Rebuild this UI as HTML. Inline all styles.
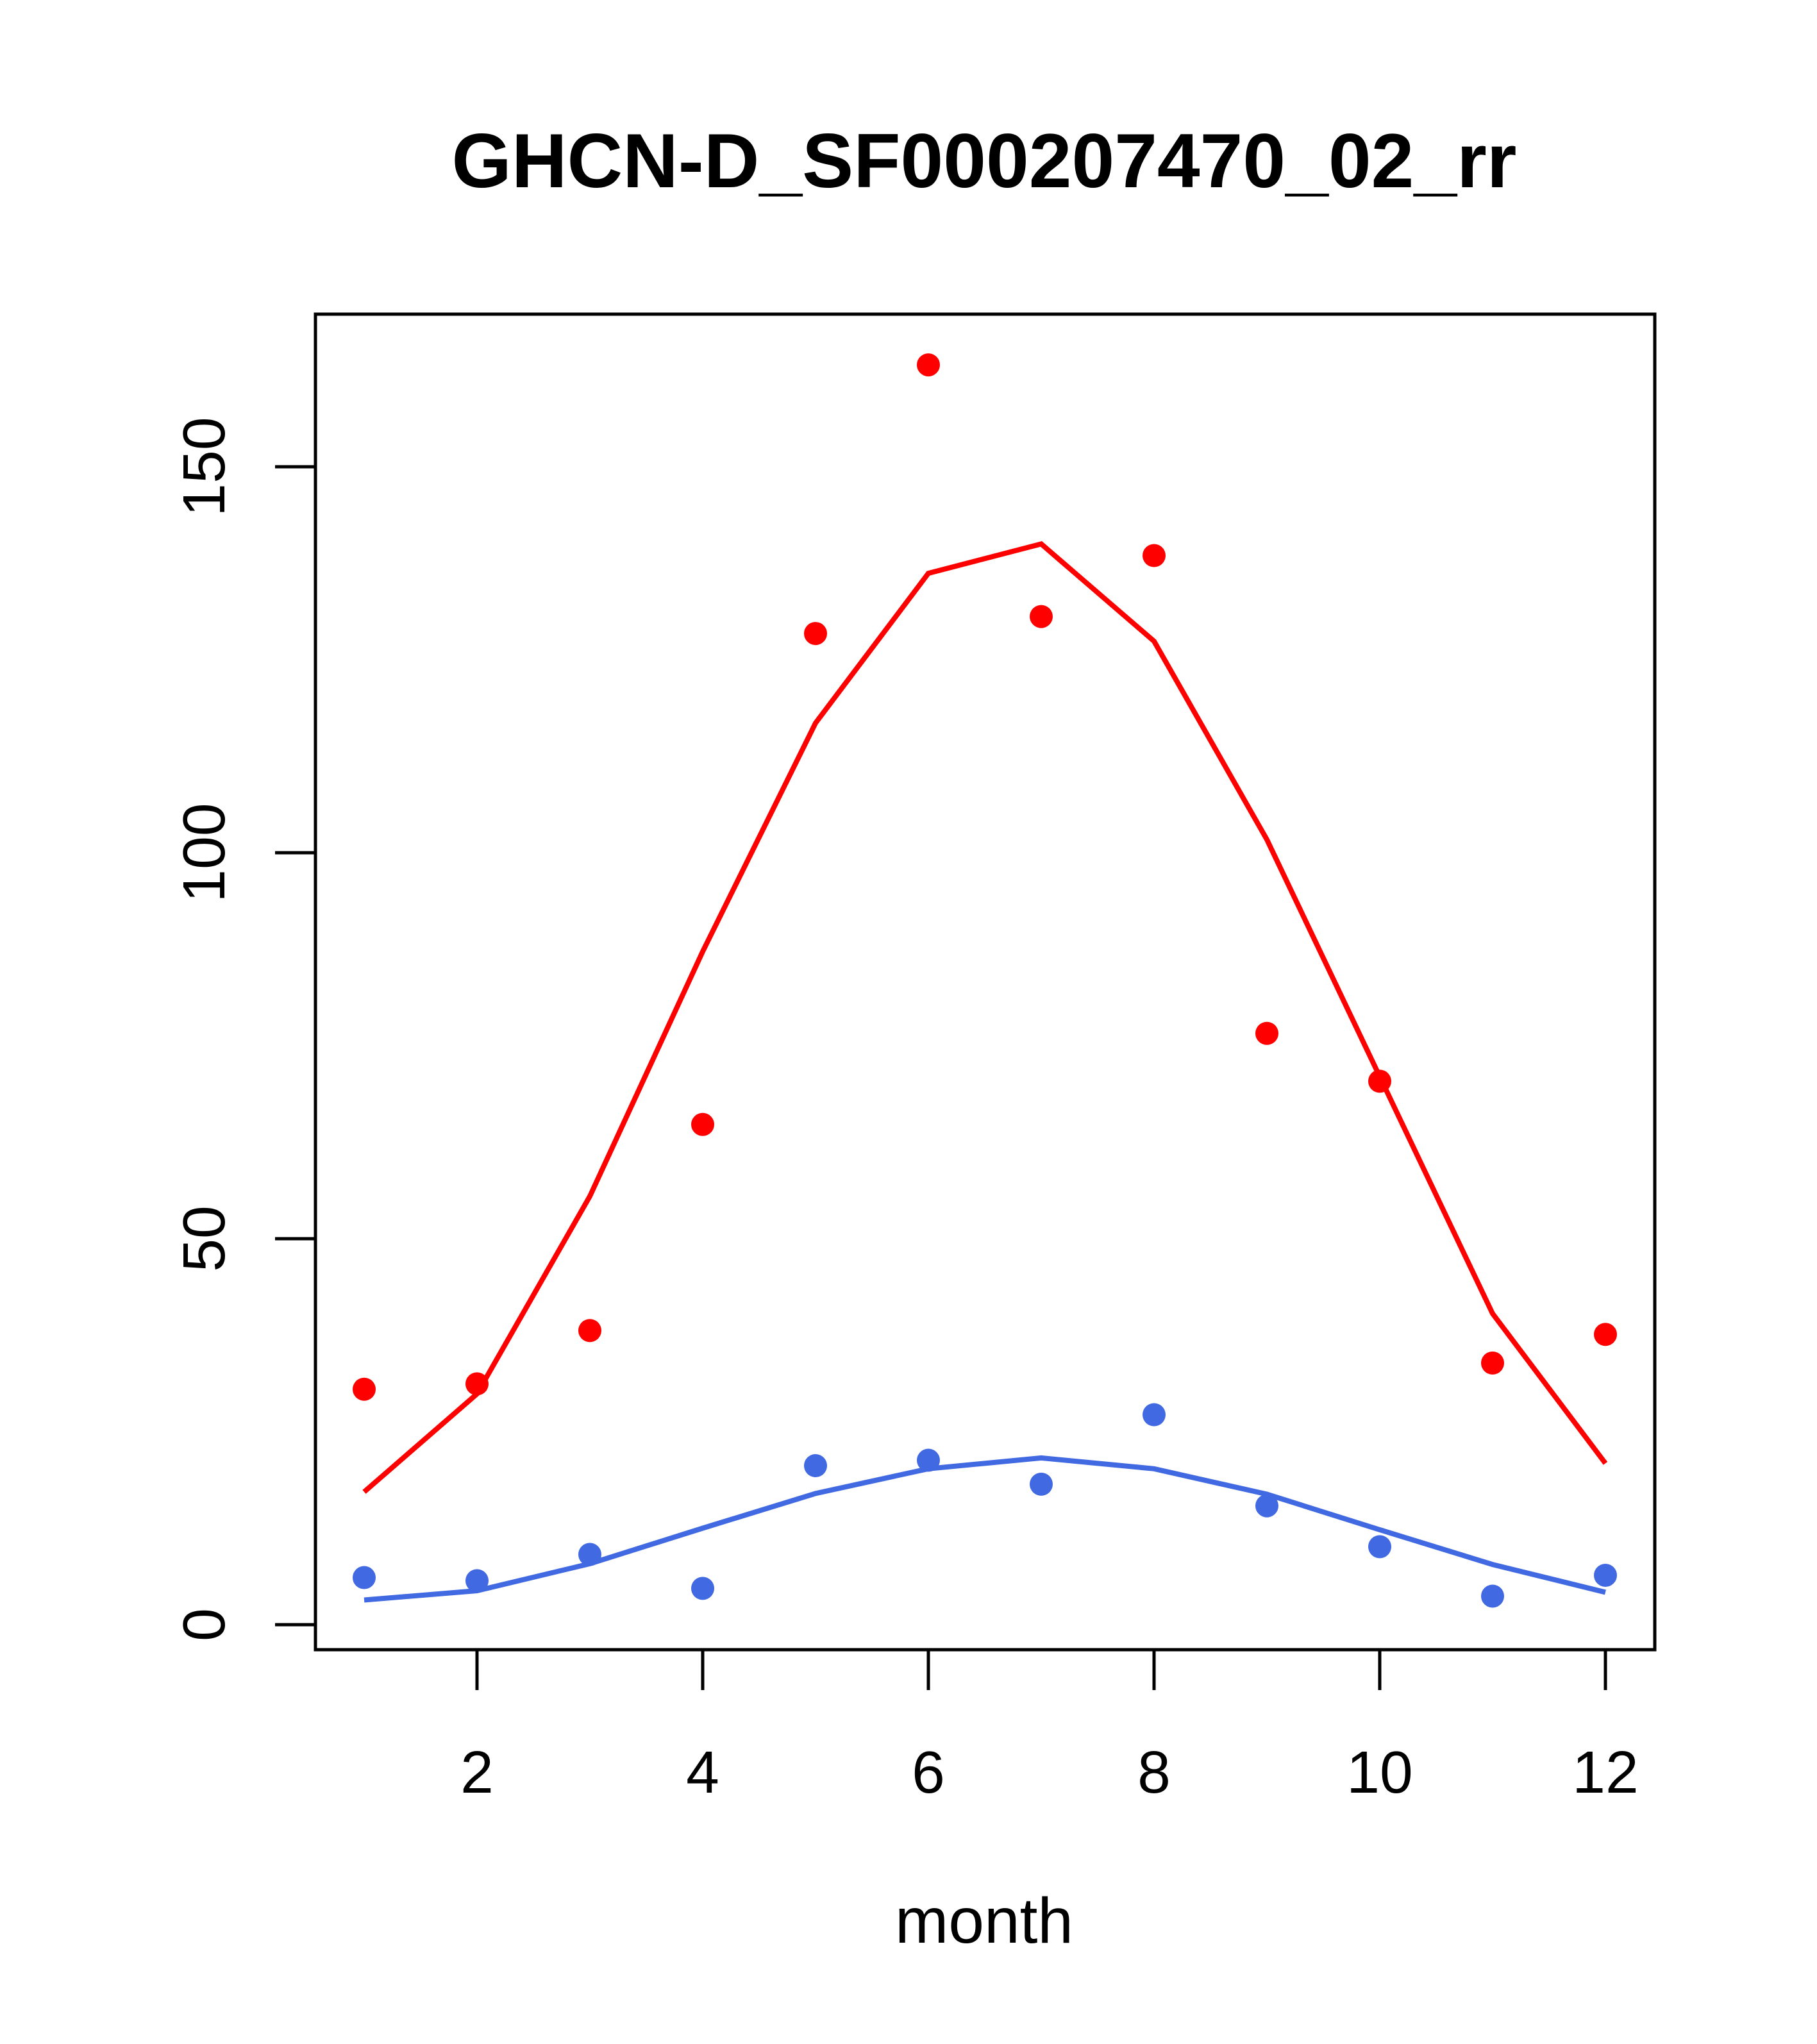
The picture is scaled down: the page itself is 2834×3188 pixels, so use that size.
<!DOCTYPE html>
<html><head><meta charset="utf-8"><style>
html,body{margin:0;padding:0;background:#fff}
svg{display:block}
text{font-family:"Liberation Sans",Arial,sans-serif;fill:#000}
</style></head><body>
<svg id="chart" width="2834" height="3188" viewBox="0 0 2834 3188">
<text x="1535" y="292" font-size="120" font-weight="bold" text-anchor="middle">GHCN-D_SF000207470_02_rr</text>
<rect x="492" y="490" width="2089" height="2083" fill="none" stroke="#000" stroke-width="5"/>
<g id="xaxis"></g>
<g id="yaxis"></g>
<text x="1535" y="3030" font-size="100" text-anchor="middle">month</text>
<g id="marks"></g>
</svg>
<script>
const months=[1,2,3,4,5,6,7,8,9,10,11,12];
const redPoints=[30.5,31.2,38.1,64.8,128.4,163.2,130.6,138.5,76.6,70.4,33.9,37.6];
const redLine=[17.2,29.9,55.5,87.2,116.8,136.2,140.0,127.4,101.7,71.0,40.3,20.9];
const bluePoints=[6.1,5.7,9.1,4.7,20.6,21.3,18.2,27.2,15.4,10.1,3.7,6.4];
const blueLine=[3.2,4.4,7.9,12.5,17.0,20.2,21.6,20.2,16.9,12.3,7.8,4.2];
const xTicks=[2,4,6,8,10,12];
const yTicks=[0,50,100,150];
const NS='http://www.w3.org/2000/svg';
function sx(m){return 744+(m-2)*176.0;}
function sy(v){return 2534-v*12.04;}
function mk(tag,attrs,parent){const e=document.createElementNS(NS,tag);for(const k in attrs)e.setAttribute(k,attrs[k]);parent.appendChild(e);return e;}
const xa=document.getElementById('xaxis'),ya=document.getElementById('yaxis'),g=document.getElementById('marks');
mk('line',{x1:sx(2),x2:sx(12),y1:2573,y2:2573,stroke:'#000','stroke-width':5},xa);
xTicks.forEach(t=>{
  const l=mk('line',{x1:sx(t),x2:sx(t),y1:2573,y2:2636,stroke:'#000','stroke-width':5},xa);
  
  
  const tx=mk('text',{x:sx(t),y:2796,'font-size':93,'text-anchor':'middle'},xa);
  tx.textContent=t;
  
  
});
yTicks.forEach(t=>{
  const l=mk('line',{x1:429,x2:492,y1:sy(t),y2:sy(t),stroke:'#000','stroke-width':5},ya);
  
  
  const tx=mk('text',{x:0,y:0,'font-size':93,'text-anchor':'middle',transform:'translate(350,'+sy(t)+') rotate(-90)'},ya);
  tx.textContent=t;
  
  
});
function line(vals,color,name){
  const p=mk('polyline',{points:vals.map((v,i)=>sx(months[i])+','+sy(v)).join(' '),fill:'none',stroke:color,'stroke-width':8},g);
  
  
}
function pts(vals,color,name){
  vals.forEach((v,i)=>{
    const c=mk('circle',{cx:sx(months[i]),cy:sy(v),r:18,fill:color},g);
    
    
  });
}
line(redLine,'#ff0000','red-fit-line');
line(blueLine,'#4169e1','blue-fit-line');
pts(redPoints,'#ff0000','red-point');
pts(bluePoints,'#4169e1','blue-point');
</script>
</body></html>
